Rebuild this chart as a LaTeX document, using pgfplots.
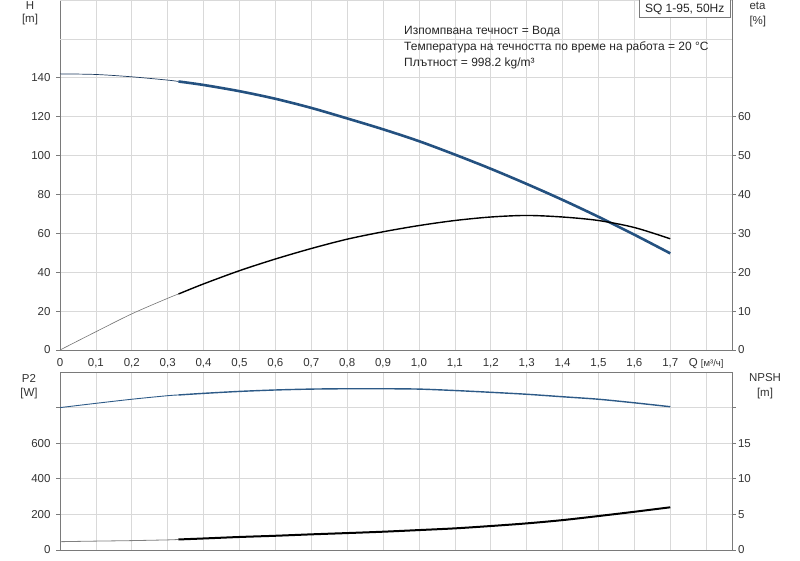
\documentclass[border=0pt]{standalone}
\usepackage{fontspec}
\setmainfont{Liberation Sans}
\usepackage{pgfplots}
\usepackage{pgfplotstable}
\pgfplotsset{compat=1.18}
\definecolor{hblue}{HTML}{245180}
\definecolor{hnavy}{HTML}{1C3A5E}
\definecolor{pblue}{HTML}{2D5A87}
\definecolor{axgray}{HTML}{7A7A7A}
\definecolor{gridgray}{HTML}{D9D9D9}

\pgfplotstableread{
q h
0 142.0
0.1 141.7
0.2 140.5
0.3 138.8
0.33 138.1
0.4 136.3
0.5 133.1
0.6 129.2
0.7 124.5
0.8 119.1
0.9 113.5
1.0 107.4
1.1 100.5
1.2 93.2
1.3 85.4
1.4 77.2
1.5 68.5
1.6 59.3
1.7 49.7
}\Htab
\pgfplotstableread{
q eta
0 0
0.1 4.7
0.2 9.3
0.3 13.3
0.33 14.4
0.4 17.0
0.5 20.4
0.6 23.4
0.7 26.1
0.8 28.5
0.9 30.4
1.0 32.0
1.1 33.3
1.2 34.2
1.3 34.6
1.4 34.2
1.5 33.3
1.6 31.5
1.7 28.6
}\Etab
\pgfplotstableread{
q p
0 800
0.1 824
0.2 847
0.3 867
0.33 871
0.4 880
0.5 891
0.6 899
0.7 904
0.8 906
0.9 906
1.0 904
1.1 896
1.2 886
1.3 875
1.4 861
1.5 847
1.6 827
1.7 805
}\Ptab
\pgfplotstableread{
q n
0 1.17
0.1 1.25
0.2 1.32
0.3 1.42
0.33 1.48
0.4 1.62
0.5 1.83
0.6 2.00
0.7 2.20
0.8 2.38
0.9 2.57
1.0 2.80
1.1 3.04
1.2 3.37
1.3 3.74
1.4 4.20
1.5 4.77
1.6 5.37
1.7 6.00
}\Ntab

\pgfplotsset{
  pump/.style={
    scale only axis, width=672pt,
    xmin=0, xmax=1.872,
    xtick={0,0.1,0.2,0.3,0.4,0.5,0.6,0.7,0.8,0.9,1.0,1.1,1.2,1.3,1.4,1.5,1.6,1.7,1.8},
    grid=major, grid style={gridgray, line width=0.7pt},
    axis line style={axgray, line width=0.8pt},
    tick align=outside, major tick length=4pt,
    tick style={axgray, line width=0.8pt},
    xtick style={draw=none},
    ticklabel style={font=\fontsize{11.5}{13}\selectfont, text=black!80},
    yticklabel style={xshift=-2pt},
    /pgf/number format/assume math mode=true,
  },
  pumpR/.style={
    scale only axis, width=672pt,
    xmin=0, xmax=1.872,
    hide x axis, axis y line*=right,
    axis line style={axgray, line width=0.8pt},
    tick align=outside, major tick length=4pt,
    tick style={axgray, line width=0.8pt},
    ticklabel style={font=\fontsize{11.5}{13}\selectfont, text=black!80},
    yticklabel style={xshift=-1.5pt},
    /pgf/number format/assume math mode=true,
  },
}

\begin{document}
\begin{tikzpicture}[font=\fontsize{11.5}{13}\selectfont]
\path[use as bounding box] (0pt,0pt) rectangle (800pt,-560pt);

% ---------- top: H ----------
\begin{axis}[pump, at={(60pt,-350pt)}, anchor=south west, height=350pt,
  ymin=0, ymax=180, ytick={0,20,...,140}, ytick pos=left,
  extra y ticks={160,180}, extra y tick labels={},
  extra y tick style={major tick length=0pt},
  xticklabels={0,{0,1},{0,2},{0,3},{0,4},{0,5},{0,6},{0,7},{0,8},{0,9},{1,0},{1,1},{1,2},{1,3},{1,4},{1,5},{1,6},{1,7},{Q {\fontsize{9.5}{10}\selectfont[м³/ч]}}},
  xticklabel style={yshift=-1pt},
  clip=false]
\addplot[hnavy, line width=0.7pt, smooth, restrict x to domain=0:0.33] table[x=q,y=h] {\Htab};
\addplot[hblue, line width=2.6pt, smooth, restrict x to domain=0.33:1.7] table[x=q,y=h] {\Htab};
\end{axis}
\begin{axis}[pumpR, at={(60pt,-350pt)}, anchor=south west, height=350pt,
  ymin=0, ymax=90, ytick={0,10,...,60}]
\addplot[black!55, line width=0.6pt, smooth, restrict x to domain=0:0.33] table[x=q,y=eta] {\Etab};
\addplot[black, line width=1.4pt, smooth, restrict x to domain=0.33:1.7] table[x=q,y=eta] {\Etab};
\end{axis}

% ---------- bottom: P2 ----------
\begin{axis}[pump, at={(60pt,-550pt)}, anchor=south west, height=178pt,
  ymin=0, ymax=1000, ytick={0,200,...,800}, ytick pos=left,
  yticklabels={0,200,400,600,{}},
  xticklabels={}]
\addplot[pblue, line width=0.9pt, smooth, restrict x to domain=0:0.33] table[x=q,y=p] {\Ptab};
\addplot[pblue, line width=1.4pt, smooth, restrict x to domain=0.33:1.7] table[x=q,y=p] {\Ptab};
\end{axis}
\begin{axis}[pumpR, at={(60pt,-550pt)}, anchor=south west, height=178pt,
  ymin=0, ymax=25, ytick={0,5,10,15,20}, yticklabels={0,5,10,15,{}}]
\addplot[black!50, line width=0.8pt, smooth, restrict x to domain=0:0.33] table[x=q,y=n] {\Ntab};
\addplot[black, line width=2.0pt, smooth, restrict x to domain=0.33:1.7] table[x=q,y=n] {\Ntab};
\end{axis}

% ---------- texts ----------
\node[text=black!80] at (30pt,-6pt) {H};
\node[text=black!80] at (30pt,-20pt) {[m]};
\node[text=black!80, anchor=west] at (746pt,-6pt) {eta};
\node[text=black!80, anchor=west] at (746pt,-22pt) {[\%]};
\node[text=black!80] at (29pt,-378pt) {P2};
\node[text=black!80] at (29pt,-394pt) {[W]};
\node[text=black!80] at (765pt,-378pt) {NPSH};
\node[text=black!80] at (765pt,-394pt) {[m]};

\begin{scope}[font=\fontsize{12}{13}\selectfont]
\node[anchor=west, inner sep=0pt, text=black!85] at (404pt,-32pt) {Изпомпвана течност = Вода};
\node[anchor=west, inner sep=0pt, text=black!85] at (404pt,-47.5pt) {Температура на течността по време на работа = 20 °C};
\node[anchor=west, inner sep=0pt, text=black!85] at (404pt,-63pt) {Плътност = 998.2 kg/m³};
\filldraw[fill=white, draw=axgray, line width=0.7pt] (639pt,1pt) rectangle (730.5pt,-17pt);
\node[text=black!85] at (684.7pt,-9.5pt) {SQ 1-95, 50Hz};
\end{scope}
\end{tikzpicture}
\end{document}
